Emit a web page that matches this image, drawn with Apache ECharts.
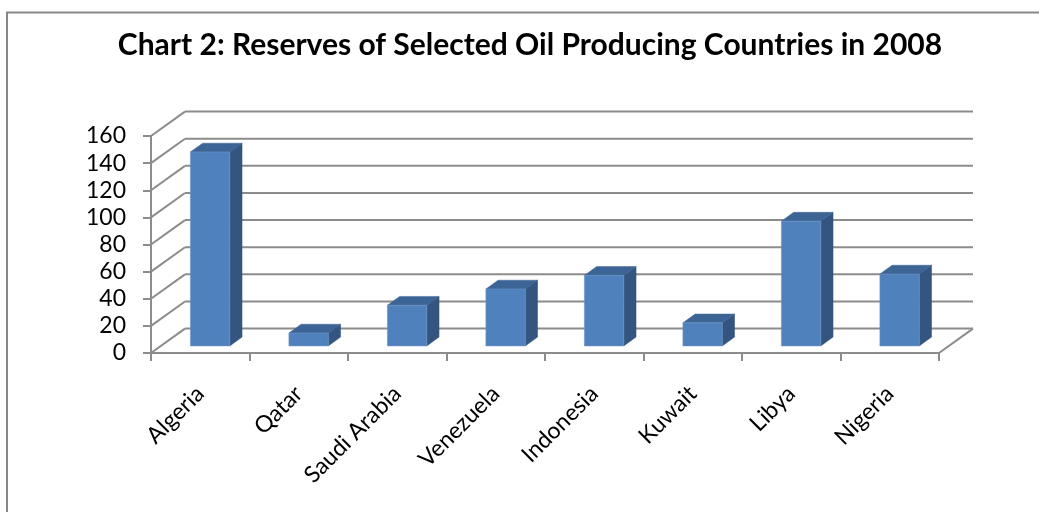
<!DOCTYPE html>
<html><head><meta charset="utf-8">
<script src="https://cdn.jsdelivr.net/npm/echarts@6/dist/echarts.min.js"></script>
<style>html,body{margin:0;padding:0;background:#fff}#c{width:1039px;height:512px}</style>
</head><body><div id="c"></div>
<script>
const categories = ['Algeria', 'Qatar', 'Saudi Arabia', 'Venezuela', 'Indonesia', 'Kuwait', 'Libya', 'Nigeria'];
const reserves = [143, 9.5, 30, 42, 52, 17, 92, 53];
const yTicks = [0, 20, 40, 60, 80, 100, 120, 140, 160];
const titleText = 'Chart 2: Reserves of Selected Oil Producing Countries in 2008';

const GRID = '#8c8c8c';
const FONT = 'Lato, "Open Sans", sans-serif';
const chart = echarts.init(document.getElementById('c'), null, { renderer: 'canvas' });

function depth(api) {
  const bw = api.size([1, 0])[0];
  return { bw: bw, dx: bw * 0.345, dy: -bw * 0.248 };
}

function renderWall(params, api) {
  const cs = params.coordSys;
  const d = depth(api);
  const y = api.coord([0, api.value(1)])[1];
  const style = { stroke: GRID, lineWidth: 2, fill: null };
  const children = [
    { type: 'line', shape: { x1: cs.x, y1: y, x2: cs.x + d.dx, y2: y + d.dy }, style: style },
    { type: 'line', shape: { x1: cs.x + d.dx, y1: y + d.dy, x2: cs.x + cs.width + d.dx, y2: y + d.dy }, style: style }
  ];
  if (api.value(1) === 0) {
    children.push({ type: 'line', shape: { x1: cs.x + cs.width, y1: y, x2: cs.x + cs.width + d.dx, y2: y + d.dy }, style: style });
  }
  return { type: 'group', children: children };
}

function renderBar(params, api) {
  const d = depth(api);
  const i = api.value(0);
  const top = api.coord([i, api.value(1)]);
  const base = api.coord([i, 0]);
  const w = d.bw * 0.40;
  const ox = d.dx * 0.29, oy = d.dy * 0.29;
  const bdx = d.dx * 0.36, bdy = d.dy * 0.36;
  const xl = top[0] - w / 2 + ox, xr = top[0] + w / 2 + ox;
  const yt = top[1] + oy, yb = base[1] + oy;
  return {
    type: 'group',
    children: [
      { type: 'polygon', shape: { points: [[xr, yt], [xr + bdx, yt + bdy], [xr + bdx, yb + bdy], [xr, yb]] },
        style: { fill: '#34557F', stroke: '#34557F', lineWidth: 0.5 } },
      { type: 'polygon', shape: { points: [[xl, yt], [xl + bdx, yt + bdy], [xr + bdx, yt + bdy], [xr, yt]] },
        style: { fill: '#3C6494', stroke: '#3C6494', lineWidth: 0.5 } },
      { type: 'rect', shape: { x: xl, y: yt, width: xr - xl, height: yb - yt },
        style: { fill: '#4F81BD', stroke: '#6E96C8', lineWidth: 0.6 } }
    ]
  };
}

const option = {
  backgroundColor: '#ffffff',
  animation: false,
  title: {
    text: titleText,
    left: 525, top: 25, textAlign: 'center',
    textStyle: { fontFamily: FONT, fontSize: 30, fontWeight: 'bold', color: '#000' }
  },
  graphic: [{
    type: 'polyline', silent: true,
    shape: { points: [[7, 512], [7, 12.5], [1039, 12.5]] },
    style: { stroke: '#888888', lineWidth: 2, fill: null }
  }],
  grid: { left: 151, right: 100, top: 136, bottom: 159, containLabel: false },
  xAxis: {
    type: 'category', data: categories, boundaryGap: true,
    axisLine: { show: true, lineStyle: { color: GRID, width: 2 } },
    axisTick: { show: true, interval: 0, length: 8, lineStyle: { color: GRID, width: 2 } },
    axisLabel: { interval: 0, rotate: 45, margin: 37, fontFamily: FONT, fontSize: 23, color: '#000' },
    splitLine: { show: false }
  },
  yAxis: {
    type: 'value', min: 0, max: 160, interval: 20,
    axisLine: { show: true, lineStyle: { color: GRID, width: 2 } },
    axisTick: { show: true, length: 8, lineStyle: { color: GRID, width: 2 } },
    axisLabel: { margin: 25, fontFamily: FONT, fontSize: 23, color: '#000' },
    splitLine: { show: false }
  },
  series: [
    { type: 'custom', name: 'wall', renderItem: renderWall, z: 1, silent: true,
      data: yTicks.map(v => [0, v]), encode: { x: 0, y: 1 } },
    { type: 'custom', name: 'Reserves', renderItem: renderBar, z: 3,
      data: reserves.map((v, i) => [i, v]), encode: { x: 0, y: 1 } }
  ]
};
chart.setOption(option);
</script>
</body></html>
